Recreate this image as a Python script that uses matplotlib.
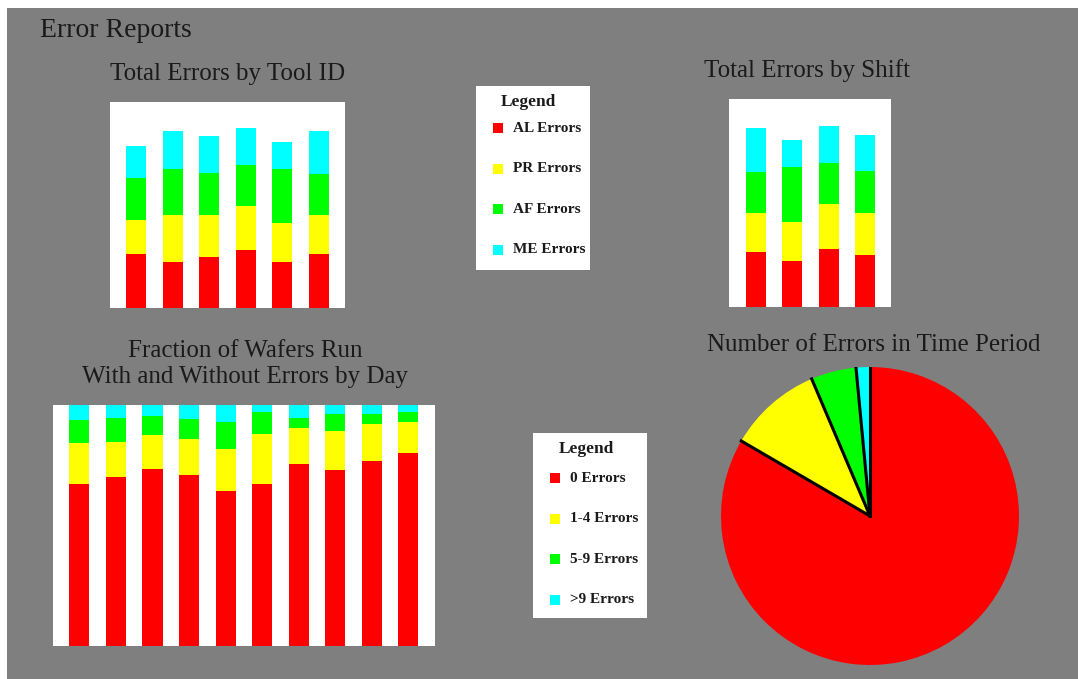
import numpy as np
import matplotlib
matplotlib.use('Agg')
import matplotlib.pyplot as plt
from matplotlib.patches import Rectangle

plt.rcParams['font.family'] = ['Liberation Serif', 'DejaVu Serif']

W, H = 1078, 679
gray = '#7f7f7f'
txt = '#1a1a1a'
colors = ['#ff0000', '#ffff00', '#00ff00', '#00ffff']

# total errors by tool id (stacked, AL/PR/AF/ME)
tool_al = [13.1, 11.1, 12.4, 14.1, 11.1, 13.1]
tool_pr = [8.2, 11.5, 10.1, 10.7, 9.5, 9.5]
tool_af = [10.3, 11.1, 10.2, 9.9, 13.1, 9.9]
tool_me = [7.6, 9.2, 8.9, 8.9, 6.6, 10.5]

# total errors by shift
shift_al = [13.1, 11.1, 14.0, 12.5]
shift_pr = [9.5, 9.4, 10.7, 10.1]
shift_af = [9.8, 13.1, 9.9, 10.2]
shift_me = [10.6, 6.6, 8.9, 8.7]

# fraction of wafers by day
day_0 = [0.673, 0.701, 0.734, 0.708, 0.644, 0.673, 0.756, 0.729, 0.769, 0.802]
day_1_4 = [0.168, 0.145, 0.140, 0.149, 0.175, 0.207, 0.147, 0.163, 0.151, 0.129]
day_5_9 = [0.097, 0.101, 0.080, 0.085, 0.112, 0.091, 0.044, 0.069, 0.044, 0.040]
day_gt9 = [0.062, 0.053, 0.046, 0.058, 0.069, 0.029, 0.053, 0.039, 0.036, 0.029]

# number of errors in time period
pie_vals = [83.4, 10.2, 4.9, 1.5]

legend1 = ['AL Errors', 'PR Errors', 'AF Errors', 'ME Errors']
legend2 = ['0 Errors', '1-4 Errors', '5-9 Errors', '>9 Errors']


def box(x0, y0, x1, y1):
    return [x0 / W, 1 - y1 / H, (x1 - x0) / W, (y1 - y0) / H]


def stacked(ax, series, ymax, pad):
    n = len(series[0])
    x = np.arange(n)
    bottom = np.zeros(n)
    for vals, c in zip(series, colors):
        ax.bar(x, vals, width=0.55, bottom=bottom, color=c, linewidth=0)
        bottom += np.array(vals)
    ax.set_xlim(-pad, n - 1 + pad)
    ax.set_ylim(0, ymax)
    ax.set_facecolor('white')
    ax.set_xticks([])
    ax.set_yticks([])
    for s in ax.spines.values():
        s.set_visible(False)


def legend_box(ax, labels, tx, ty, y0, step, mx, lx):
    ax.set_facecolor('white')
    ax.set_xlim(0, 1)
    ax.set_ylim(0, 1)
    ax.set_xticks([])
    ax.set_yticks([])
    for s in ax.spines.values():
        s.set_visible(False)
    ax.text(tx, ty, 'Legend', ha='center', va='center', fontsize=12.5,
            fontweight='bold', color=txt)
    for i, (lab, c) in enumerate(zip(labels, colors)):
        y = y0 - i * step
        ax.scatter([mx], [y], marker='s', s=62, color=c, linewidths=0)
        ax.text(lx, y, lab, ha='left', va='center', fontsize=11,
                fontweight='bold', color=txt)


fig = plt.figure(figsize=(W / 100, H / 100), dpi=100, facecolor='white')
fig.patches.append(Rectangle((7 / W, 0), 1, 1 - 8 / H, transform=fig.transFigure,
                             facecolor=gray, edgecolor='none', zorder=-10))

fig.text(40 / W, 1 - 37 / H, 'Error Reports', fontsize=20, color=txt, va='baseline')

ax1 = fig.add_axes(box(110, 101.7, 345, 308))
stacked(ax1, [tool_al, tool_pr, tool_af, tool_me], 50, 0.71)
fig.text(227.5 / W, 1 - 80 / H, 'Total Errors by Tool ID', fontsize=18,
         color=txt, ha='center', va='baseline')

ax2 = fig.add_axes(box(729.3, 99.3, 891.3, 306.7))
stacked(ax2, [shift_al, shift_pr, shift_af, shift_me], 50, 0.72)
fig.text(807 / W, 1 - 76.7 / H, 'Total Errors by Shift', fontsize=18,
         color=txt, ha='center', va='baseline')

ax3 = fig.add_axes(box(52.7, 405, 435, 645.7))
stacked(ax3, [day_0, day_1_4, day_5_9, day_gt9], 1.0, 0.73)
fig.text(245 / W, 1 - 356.7 / H, 'Fraction of Wafers Run', fontsize=18,
         color=txt, ha='center', va='baseline')
fig.text(245 / W, 1 - 383.3 / H, 'With and Without Errors by Day', fontsize=18,
         color=txt, ha='center', va='baseline')

ax4 = fig.add_axes(box(720, 367, 1020, 665))
ax4.pie(pie_vals, colors=colors, startangle=90, counterclock=False,
        wedgeprops=dict(linewidth=0))
cum = np.concatenate([[0], np.cumsum(pie_vals) / np.sum(pie_vals)])[:-1]
for f in cum:
    a = np.deg2rad(90 - 360 * f)
    ax4.plot([0, np.cos(a)], [0, np.sin(a)], color='black', lw=2.2)
ax4.set_xlim(-1, 1)
ax4.set_ylim(-1, 1)
ax4.axis('off')
fig.text(873.8 / W, 1 - 350.7 / H, 'Number of Errors in Time Period', fontsize=18,
         color=txt, ha='center', va='baseline')

lg1 = fig.add_axes(box(476, 86, 590, 270))
legend_box(lg1, legend1, 0.456, 0.915, 0.77, 0.22, 0.19, 0.327)

lg2 = fig.add_axes(box(532.7, 433.3, 647.3, 617.7))
legend_box(lg2, legend2, 0.471, 0.915, 0.756, 0.22, 0.195, 0.326)

plt.savefig('out.png', dpi=100, facecolor='white')
